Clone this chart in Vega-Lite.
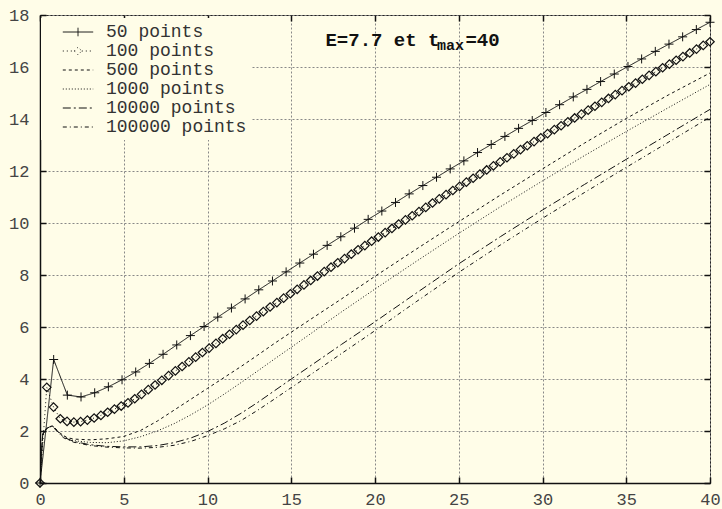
{
  "$schema": "https://vega.github.io/schema/vega-lite/v6.json",
  "width": 670,
  "height": 468,
  "autosize": {"type": "none"},
  "padding": {"left": 40, "top": 15, "right": 12, "bottom": 26},
  "background": "#FFFDE8",
  "config": {
    "view": {"stroke": "#222", "strokeWidth": 1},
    "axis": {
      "gridColor": "#888", "gridDash": [2, 2], "gridOpacity": 1, "gridWidth": 1,
      "domainColor": "#111", "domainWidth": 1.5,
      "tickColor": "#111", "tickSize": -6, "tickWidth": 1.5,
      "labelFont": "Liberation Mono", "labelFontSize": 17, "labelColor": "#444",
      "labelFlush": false, "title": null
    }
  },
  "datasets": {
    "curves": [
      {"series": "50 points", "t": 0, "value": 0},
      {"series": "50 points", "t": 0.816, "value": 4.75},
      {"series": "50 points", "t": 1.633, "value": 3.38},
      {"series": "50 points", "t": 2.449, "value": 3.31},
      {"series": "50 points", "t": 3.265, "value": 3.47},
      {"series": "50 points", "t": 4.082, "value": 3.7},
      {"series": "50 points", "t": 4.898, "value": 3.97},
      {"series": "50 points", "t": 5.714, "value": 4.27},
      {"series": "50 points", "t": 6.531, "value": 4.6},
      {"series": "50 points", "t": 7.347, "value": 4.95},
      {"series": "50 points", "t": 8.163, "value": 5.31},
      {"series": "50 points", "t": 8.98, "value": 5.67},
      {"series": "50 points", "t": 9.796, "value": 6.02},
      {"series": "50 points", "t": 10.612, "value": 6.38},
      {"series": "50 points", "t": 11.429, "value": 6.73},
      {"series": "50 points", "t": 12.245, "value": 7.08},
      {"series": "50 points", "t": 13.061, "value": 7.43},
      {"series": "50 points", "t": 13.878, "value": 7.77},
      {"series": "50 points", "t": 14.694, "value": 8.12},
      {"series": "50 points", "t": 15.51, "value": 8.46},
      {"series": "50 points", "t": 16.327, "value": 8.8},
      {"series": "50 points", "t": 17.143, "value": 9.14},
      {"series": "50 points", "t": 17.959, "value": 9.47},
      {"series": "50 points", "t": 18.776, "value": 9.8},
      {"series": "50 points", "t": 19.592, "value": 10.14},
      {"series": "50 points", "t": 20.408, "value": 10.46},
      {"series": "50 points", "t": 21.224, "value": 10.79},
      {"series": "50 points", "t": 22.041, "value": 11.12},
      {"series": "50 points", "t": 22.857, "value": 11.44},
      {"series": "50 points", "t": 23.673, "value": 11.76},
      {"series": "50 points", "t": 24.49, "value": 12.08},
      {"series": "50 points", "t": 25.306, "value": 12.39},
      {"series": "50 points", "t": 26.122, "value": 12.71},
      {"series": "50 points", "t": 26.939, "value": 13.02},
      {"series": "50 points", "t": 27.755, "value": 13.33},
      {"series": "50 points", "t": 28.571, "value": 13.64},
      {"series": "50 points", "t": 29.388, "value": 13.94},
      {"series": "50 points", "t": 30.204, "value": 14.25},
      {"series": "50 points", "t": 31.02, "value": 14.55},
      {"series": "50 points", "t": 31.837, "value": 14.85},
      {"series": "50 points", "t": 32.653, "value": 15.14},
      {"series": "50 points", "t": 33.469, "value": 15.44},
      {"series": "50 points", "t": 34.286, "value": 15.73},
      {"series": "50 points", "t": 35.102, "value": 16.02},
      {"series": "50 points", "t": 35.918, "value": 16.31},
      {"series": "50 points", "t": 36.735, "value": 16.6},
      {"series": "50 points", "t": 37.551, "value": 16.88},
      {"series": "50 points", "t": 38.367, "value": 17.16},
      {"series": "50 points", "t": 39.184, "value": 17.44},
      {"series": "50 points", "t": 40, "value": 17.72},

      {"series": "100 points", "t": 0, "value": 0},
      {"series": "100 points", "t": 0.404, "value": 3.68},
      {"series": "100 points", "t": 0.808, "value": 2.92},
      {"series": "100 points", "t": 1.212, "value": 2.47},
      {"series": "100 points", "t": 1.616, "value": 2.37},
      {"series": "100 points", "t": 2.02, "value": 2.34},
      {"series": "100 points", "t": 2.424, "value": 2.36},
      {"series": "100 points", "t": 2.828, "value": 2.42},
      {"series": "100 points", "t": 3.232, "value": 2.5},
      {"series": "100 points", "t": 3.636, "value": 2.6},
      {"series": "100 points", "t": 4.04, "value": 2.72},
      {"series": "100 points", "t": 4.444, "value": 2.84},
      {"series": "100 points", "t": 4.848, "value": 2.96},
      {"series": "100 points", "t": 5.253, "value": 3.08},
      {"series": "100 points", "t": 5.657, "value": 3.24},
      {"series": "100 points", "t": 6.061, "value": 3.41},
      {"series": "100 points", "t": 6.465, "value": 3.59},
      {"series": "100 points", "t": 6.869, "value": 3.77},
      {"series": "100 points", "t": 7.273, "value": 3.95},
      {"series": "100 points", "t": 7.677, "value": 4.13},
      {"series": "100 points", "t": 8.081, "value": 4.31},
      {"series": "100 points", "t": 8.485, "value": 4.48},
      {"series": "100 points", "t": 8.889, "value": 4.66},
      {"series": "100 points", "t": 9.293, "value": 4.84},
      {"series": "100 points", "t": 9.697, "value": 5.02},
      {"series": "100 points", "t": 10.101, "value": 5.19},
      {"series": "100 points", "t": 10.505, "value": 5.37},
      {"series": "100 points", "t": 10.909, "value": 5.55},
      {"series": "100 points", "t": 11.313, "value": 5.72},
      {"series": "100 points", "t": 11.717, "value": 5.9},
      {"series": "100 points", "t": 12.121, "value": 6.07},
      {"series": "100 points", "t": 12.525, "value": 6.25},
      {"series": "100 points", "t": 12.929, "value": 6.42},
      {"series": "100 points", "t": 13.333, "value": 6.59},
      {"series": "100 points", "t": 13.737, "value": 6.77},
      {"series": "100 points", "t": 14.141, "value": 6.94},
      {"series": "100 points", "t": 14.545, "value": 7.11},
      {"series": "100 points", "t": 14.949, "value": 7.28},
      {"series": "100 points", "t": 15.354, "value": 7.45},
      {"series": "100 points", "t": 15.758, "value": 7.62},
      {"series": "100 points", "t": 16.162, "value": 7.79},
      {"series": "100 points", "t": 16.566, "value": 7.96},
      {"series": "100 points", "t": 16.97, "value": 8.13},
      {"series": "100 points", "t": 17.374, "value": 8.3},
      {"series": "100 points", "t": 17.778, "value": 8.47},
      {"series": "100 points", "t": 18.182, "value": 8.63},
      {"series": "100 points", "t": 18.586, "value": 8.8},
      {"series": "100 points", "t": 18.99, "value": 8.97},
      {"series": "100 points", "t": 19.394, "value": 9.13},
      {"series": "100 points", "t": 19.798, "value": 9.3},
      {"series": "100 points", "t": 20.202, "value": 9.46},
      {"series": "100 points", "t": 20.606, "value": 9.63},
      {"series": "100 points", "t": 21.01, "value": 9.79},
      {"series": "100 points", "t": 21.414, "value": 9.96},
      {"series": "100 points", "t": 21.818, "value": 10.12},
      {"series": "100 points", "t": 22.222, "value": 10.28},
      {"series": "100 points", "t": 22.626, "value": 10.44},
      {"series": "100 points", "t": 23.03, "value": 10.6},
      {"series": "100 points", "t": 23.434, "value": 10.77},
      {"series": "100 points", "t": 23.838, "value": 10.93},
      {"series": "100 points", "t": 24.242, "value": 11.09},
      {"series": "100 points", "t": 24.646, "value": 11.25},
      {"series": "100 points", "t": 25.051, "value": 11.41},
      {"series": "100 points", "t": 25.455, "value": 11.57},
      {"series": "100 points", "t": 25.859, "value": 11.72},
      {"series": "100 points", "t": 26.263, "value": 11.88},
      {"series": "100 points", "t": 26.667, "value": 12.04},
      {"series": "100 points", "t": 27.071, "value": 12.2},
      {"series": "100 points", "t": 27.475, "value": 12.35},
      {"series": "100 points", "t": 27.879, "value": 12.51},
      {"series": "100 points", "t": 28.283, "value": 12.66},
      {"series": "100 points", "t": 28.687, "value": 12.82},
      {"series": "100 points", "t": 29.091, "value": 12.97},
      {"series": "100 points", "t": 29.495, "value": 13.13},
      {"series": "100 points", "t": 29.899, "value": 13.28},
      {"series": "100 points", "t": 30.303, "value": 13.44},
      {"series": "100 points", "t": 30.707, "value": 13.59},
      {"series": "100 points", "t": 31.111, "value": 13.74},
      {"series": "100 points", "t": 31.515, "value": 13.89},
      {"series": "100 points", "t": 31.919, "value": 14.04},
      {"series": "100 points", "t": 32.323, "value": 14.19},
      {"series": "100 points", "t": 32.727, "value": 14.34},
      {"series": "100 points", "t": 33.131, "value": 14.49},
      {"series": "100 points", "t": 33.535, "value": 14.64},
      {"series": "100 points", "t": 33.939, "value": 14.79},
      {"series": "100 points", "t": 34.343, "value": 14.94},
      {"series": "100 points", "t": 34.747, "value": 15.09},
      {"series": "100 points", "t": 35.152, "value": 15.24},
      {"series": "100 points", "t": 35.556, "value": 15.38},
      {"series": "100 points", "t": 35.96, "value": 15.53},
      {"series": "100 points", "t": 36.364, "value": 15.68},
      {"series": "100 points", "t": 36.768, "value": 15.82},
      {"series": "100 points", "t": 37.172, "value": 15.97},
      {"series": "100 points", "t": 37.576, "value": 16.11},
      {"series": "100 points", "t": 37.98, "value": 16.26},
      {"series": "100 points", "t": 38.384, "value": 16.4},
      {"series": "100 points", "t": 38.788, "value": 16.54},
      {"series": "100 points", "t": 39.192, "value": 16.69},
      {"series": "100 points", "t": 39.596, "value": 16.83},
      {"series": "100 points", "t": 40, "value": 16.97},

      {"series": "500 points", "t": 0, "value": 0},
      {"series": "500 points", "t": 0.08, "value": 1.0},
      {"series": "500 points", "t": 0.16, "value": 1.9},
      {"series": "500 points", "t": 0.4, "value": 2.1},
      {"series": "500 points", "t": 0.75, "value": 2.2},
      {"series": "500 points", "t": 1.2, "value": 1.92},
      {"series": "500 points", "t": 1.6, "value": 1.75},
      {"series": "500 points", "t": 2, "value": 1.69},
      {"series": "500 points", "t": 3, "value": 1.66},
      {"series": "500 points", "t": 4, "value": 1.7},
      {"series": "500 points", "t": 5, "value": 1.79},
      {"series": "500 points", "t": 6, "value": 2.02},
      {"series": "500 points", "t": 7, "value": 2.38},
      {"series": "500 points", "t": 8, "value": 2.8},
      {"series": "500 points", "t": 9, "value": 3.22},
      {"series": "500 points", "t": 10, "value": 3.64},
      {"series": "500 points", "t": 11, "value": 4.06},
      {"series": "500 points", "t": 12, "value": 4.48},
      {"series": "500 points", "t": 13, "value": 4.92},
      {"series": "500 points", "t": 14, "value": 5.37},
      {"series": "500 points", "t": 15, "value": 5.8},
      {"series": "500 points", "t": 16, "value": 6.23},
      {"series": "500 points", "t": 18, "value": 7.08},
      {"series": "500 points", "t": 20, "value": 7.95},
      {"series": "500 points", "t": 22.5, "value": 9.01},
      {"series": "500 points", "t": 25, "value": 10.05},
      {"series": "500 points", "t": 27.5, "value": 11.08},
      {"series": "500 points", "t": 30, "value": 12.08},
      {"series": "500 points", "t": 32.5, "value": 13.07},
      {"series": "500 points", "t": 35, "value": 14.02},
      {"series": "500 points", "t": 37.5, "value": 14.92},
      {"series": "500 points", "t": 40, "value": 15.77},

      {"series": "1000 points", "t": 0, "value": 0},
      {"series": "1000 points", "t": 0.08, "value": 1.0},
      {"series": "1000 points", "t": 0.16, "value": 1.9},
      {"series": "1000 points", "t": 0.4, "value": 2.1},
      {"series": "1000 points", "t": 0.75, "value": 2.2},
      {"series": "1000 points", "t": 1.2, "value": 1.9},
      {"series": "1000 points", "t": 1.6, "value": 1.72},
      {"series": "1000 points", "t": 2, "value": 1.63},
      {"series": "1000 points", "t": 3, "value": 1.56},
      {"series": "1000 points", "t": 4, "value": 1.55},
      {"series": "1000 points", "t": 5, "value": 1.62},
      {"series": "1000 points", "t": 6, "value": 1.78},
      {"series": "1000 points", "t": 7, "value": 2.0},
      {"series": "1000 points", "t": 8, "value": 2.28},
      {"series": "1000 points", "t": 9, "value": 2.62},
      {"series": "1000 points", "t": 10, "value": 3.0},
      {"series": "1000 points", "t": 11, "value": 3.42},
      {"series": "1000 points", "t": 12, "value": 3.86},
      {"series": "1000 points", "t": 13, "value": 4.31},
      {"series": "1000 points", "t": 14, "value": 4.77},
      {"series": "1000 points", "t": 15, "value": 5.22},
      {"series": "1000 points", "t": 16, "value": 5.67},
      {"series": "1000 points", "t": 18, "value": 6.58},
      {"series": "1000 points", "t": 20, "value": 7.46},
      {"series": "1000 points", "t": 22.5, "value": 8.54},
      {"series": "1000 points", "t": 25, "value": 9.6},
      {"series": "1000 points", "t": 27.5, "value": 10.63},
      {"series": "1000 points", "t": 30, "value": 11.62},
      {"series": "1000 points", "t": 32.5, "value": 12.59},
      {"series": "1000 points", "t": 35, "value": 13.52},
      {"series": "1000 points", "t": 37.5, "value": 14.43},
      {"series": "1000 points", "t": 40, "value": 15.33},

      {"series": "10000 points", "t": 0, "value": 0},
      {"series": "10000 points", "t": 0.08, "value": 1.0},
      {"series": "10000 points", "t": 0.16, "value": 1.85},
      {"series": "10000 points", "t": 0.4, "value": 2.1},
      {"series": "10000 points", "t": 0.7, "value": 2.2},
      {"series": "10000 points", "t": 1.0, "value": 2.02},
      {"series": "10000 points", "t": 1.4, "value": 1.76},
      {"series": "10000 points", "t": 2, "value": 1.6},
      {"series": "10000 points", "t": 3, "value": 1.47},
      {"series": "10000 points", "t": 4, "value": 1.41},
      {"series": "10000 points", "t": 5, "value": 1.39},
      {"series": "10000 points", "t": 6, "value": 1.39},
      {"series": "10000 points", "t": 7, "value": 1.44},
      {"series": "10000 points", "t": 8, "value": 1.55},
      {"series": "10000 points", "t": 9, "value": 1.73},
      {"series": "10000 points", "t": 10, "value": 1.98},
      {"series": "10000 points", "t": 11, "value": 2.3},
      {"series": "10000 points", "t": 12, "value": 2.68},
      {"series": "10000 points", "t": 13, "value": 3.1},
      {"series": "10000 points", "t": 14, "value": 3.55},
      {"series": "10000 points", "t": 15, "value": 4.0},
      {"series": "10000 points", "t": 16, "value": 4.44},
      {"series": "10000 points", "t": 18, "value": 5.33},
      {"series": "10000 points", "t": 20, "value": 6.2},
      {"series": "10000 points", "t": 22.5, "value": 7.32},
      {"series": "10000 points", "t": 25, "value": 8.43},
      {"series": "10000 points", "t": 27.5, "value": 9.48},
      {"series": "10000 points", "t": 30, "value": 10.5},
      {"series": "10000 points", "t": 32.5, "value": 11.48},
      {"series": "10000 points", "t": 35, "value": 12.45},
      {"series": "10000 points", "t": 37.5, "value": 13.41},
      {"series": "10000 points", "t": 40, "value": 14.37},

      {"series": "100000 points", "t": 0, "value": 0},
      {"series": "100000 points", "t": 0.08, "value": 1.0},
      {"series": "100000 points", "t": 0.16, "value": 1.85},
      {"series": "100000 points", "t": 0.4, "value": 2.1},
      {"series": "100000 points", "t": 0.7, "value": 2.2},
      {"series": "100000 points", "t": 1.0, "value": 2.0},
      {"series": "100000 points", "t": 1.4, "value": 1.74},
      {"series": "100000 points", "t": 2, "value": 1.57},
      {"series": "100000 points", "t": 3, "value": 1.44},
      {"series": "100000 points", "t": 4, "value": 1.38},
      {"series": "100000 points", "t": 5, "value": 1.35},
      {"series": "100000 points", "t": 6, "value": 1.34},
      {"series": "100000 points", "t": 7, "value": 1.37},
      {"series": "100000 points", "t": 8, "value": 1.45},
      {"series": "100000 points", "t": 9, "value": 1.6},
      {"series": "100000 points", "t": 10, "value": 1.82},
      {"series": "100000 points", "t": 11, "value": 2.08},
      {"series": "100000 points", "t": 12, "value": 2.4},
      {"series": "100000 points", "t": 13, "value": 2.8},
      {"series": "100000 points", "t": 14, "value": 3.23},
      {"series": "100000 points", "t": 15, "value": 3.67},
      {"series": "100000 points", "t": 16, "value": 4.1},
      {"series": "100000 points", "t": 18, "value": 4.98},
      {"series": "100000 points", "t": 20, "value": 5.86},
      {"series": "100000 points", "t": 22.5, "value": 6.99},
      {"series": "100000 points", "t": 25, "value": 8.1},
      {"series": "100000 points", "t": 27.5, "value": 9.16},
      {"series": "100000 points", "t": 30, "value": 10.18},
      {"series": "100000 points", "t": 32.5, "value": 11.17},
      {"series": "100000 points", "t": 35, "value": 12.14},
      {"series": "100000 points", "t": 37.5, "value": 13.1},
      {"series": "100000 points", "t": 40, "value": 14.07}
    ]
  },
  "data": {"name": "curves"},
  "resolve": {"axis": {"x": "independent", "y": "independent"}},
  "layer": [
    {
      "mark": {"type": "line", "strokeWidth": 1, "color": "#111", "clip": true},
      "encoding": {
        "x": {
          "field": "t", "type": "quantitative",
          "scale": {"domain": [0, 40], "nice": false, "zero": false},
          "axis": {"values": [0, 5, 10, 15, 20, 25, 30, 35, 40], "labelPadding": 14, "grid": true}
        },
        "y": {
          "field": "value", "type": "quantitative",
          "scale": {"domain": [0, 18], "nice": false},
          "axis": {"values": [0, 2, 4, 6, 8, 10, 12, 14, 16, 18], "labelPadding": 17, "grid": true}
        },
        "strokeDash": {
          "field": "series", "type": "nominal",
          "scale": {
            "domain": ["50 points", "100 points", "500 points", "1000 points", "10000 points", "100000 points"],
            "range": [[1, 0], [1, 3], [3, 3], [1, 2], [8, 3, 2, 3], [4, 3, 1, 3]]
          },
          "legend": {
            "orient": "none", "legendX": 1, "legendY": 3,
            "title": null, "padding": 4, "fillColor": "#FFFDE8",
            "symbolOffset": 23,
            "symbolType": "M-1.6,0H1.6", "symbolSize": 361,
            "symbolStrokeWidth": 1, "symbolStrokeColor": "#111", "symbolFillColor": "transparent",
            "labelFont": "Liberation Mono", "labelFontSize": 18, "labelColor": "#333",
            "labelOffset": 18, "rowPadding": 0, "labelLimit": 300,
            "encode": {
              "symbols": {
                "update": {
                  "shape": {"signal": "datum.value === '50 points' ? 'M-1.6,0H1.6M0,-0.45V0.45' : (datum.value === '100 points' ? 'M-1.6,0H-0.4M0.4,0H1.6M-0.4,0L0,-0.4L0.4,0L0,0.4Z' : 'M-1.6,0H1.6')"},
                  "strokeDash": {"signal": "datum.value === '100 points' ? [1, 1] : scale('strokeDash', datum.value)"}
                }
              }
            }
          }
        }
      }
    },
    {
      "transform": [{"filter": {"field": "series", "equal": "50 points"}}],
      "mark": {"type": "point", "shape": "M-1,0H1M0,-1V1", "size": 81, "filled": false, "strokeWidth": 1, "color": "#111", "opacity": 1},
      "encoding": {
        "x": {"field": "t", "type": "quantitative", "axis": {"orient": "top", "labels": false, "grid": false, "domain": false, "values": [0, 5, 10, 15, 20, 25, 30, 35, 40]}},
        "y": {"field": "value", "type": "quantitative", "axis": {"orient": "right", "labels": false, "grid": false, "domain": false, "values": [0, 2, 4, 6, 8, 10, 12, 14, 16, 18]}}
      }
    },
    {
      "transform": [{"filter": {"field": "series", "equal": "100 points"}}],
      "mark": {"type": "point", "shape": "diamond", "size": 72, "filled": false, "strokeWidth": 1.2, "color": "#111", "opacity": 1},
      "encoding": {
        "x": {"field": "t", "type": "quantitative", "axis": null},
        "y": {"field": "value", "type": "quantitative", "axis": null}
      }
    },
    {
      "data": {"values": [{}]},
      "mark": {"type": "text", "text": "E=7.7 et t", "align": "left", "baseline": "alphabetic", "font": "Liberation Mono", "fontSize": 19, "fontWeight": "bold", "color": "#111"},
      "encoding": {
        "x": {"datum": 17.04, "type": "quantitative", "axis": null},
        "y": {"datum": 16.81, "type": "quantitative", "axis": null}
      }
    },
    {
      "data": {"values": [{}]},
      "mark": {"type": "text", "text": "max", "align": "left", "baseline": "alphabetic", "font": "Liberation Mono", "fontSize": 15, "fontWeight": "bold", "color": "#111"},
      "encoding": {
        "x": {"datum": 23.7, "type": "quantitative", "axis": null},
        "y": {"datum": 16.65, "type": "quantitative", "axis": null}
      }
    },
    {
      "data": {"values": [{}]},
      "mark": {"type": "text", "text": "=40", "align": "left", "baseline": "alphabetic", "font": "Liberation Mono", "fontSize": 19, "fontWeight": "bold", "color": "#111"},
      "encoding": {
        "x": {"datum": 25.4, "type": "quantitative", "axis": null},
        "y": {"datum": 16.81, "type": "quantitative", "axis": null}
      }
    }
  ]
}
